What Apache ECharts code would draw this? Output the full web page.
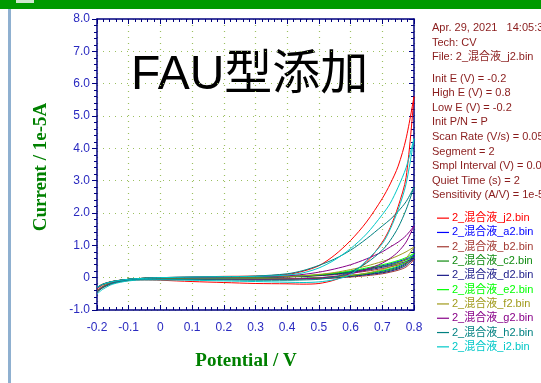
<!DOCTYPE html>
<html><head><meta charset="utf-8">
<script src="https://cdn.jsdelivr.net/npm/echarts@6/dist/echarts.min.js"></script>
<style>html,body{margin:0;padding:0;background:#fff;}#c{width:541px;height:383px;}</style>
</head><body><div id="c"></div>
<script>
// ---- data ----
const potFwd = [-0.2, -0.18, -0.15, -0.1, -0.05, 0, 0.1, 0.2, 0.3, 0.4, 0.45, 0.5, 0.55, 0.6, 0.65, 0.7, 0.725, 0.75, 0.775, 0.8];
const potRev = [0.8, 0.775, 0.75, 0.725, 0.7, 0.65, 0.6, 0.55, 0.5, 0.45, 0.4, 0.3, 0.2, 0.1, 0, -0.05, -0.1, -0.15, -0.18, -0.2];

const seriesNames = ['2_混合液_j2.bin','2_混合液_a2.bin','2_混合液_b2.bin','2_混合液_c2.bin','2_混合液_d2.bin','2_混合液_e2.bin','2_混合液_f2.bin','2_混合液_g2.bin','2_混合液_h2.bin','2_混合液_i2.bin'];
const seriesColors = ['#ff0000','#0000ff','#a33a33','#108a10','#1a1a88','#00ff00','#a09a1a','#880088','#008080','#00c8c8'];

const j2Fwd = [-0.45, -0.3, -0.18, -0.09, -0.07, -0.08, -0.12, -0.15, -0.18, -0.19, -0.2, -0.18, -0.07, 0.15, 0.48, 1.1, 1.55, 2.2, 3.1, 5.6];
const j2Rev = [5.6, 4.3, 3.45, 2.9, 2.45, 1.72, 1.15, 0.7, 0.37, 0.2, 0.1, 0.05, 0.04, 0.02, 0.0, -0.02, -0.05, -0.13, -0.22, -0.35];
const a2Fwd = [-0.42, -0.28, -0.16, -0.07, -0.05, -0.05, -0.05, -0.04, -0.04, -0.03, -0.02, 0.0, 0.03, 0.07, 0.12, 0.2, 0.26, 0.33, 0.45, 0.7];
const a2Rev = [0.7, 0.58, 0.5, 0.43, 0.37, 0.27, 0.19, 0.13, 0.08, 0.05, 0.03, 0.02, 0.01, 0.0, -0.01, -0.02, -0.05, -0.12, -0.2, -0.32];
const b2Fwd = [-0.4, -0.26, -0.15, -0.07, -0.05, -0.05, -0.05, -0.05, -0.05, -0.04, -0.04, -0.03, -0.01, 0.02, 0.06, 0.12, 0.17, 0.23, 0.33, 0.55];
const b2Rev = [0.55, 0.46, 0.39, 0.33, 0.28, 0.2, 0.14, 0.09, 0.06, 0.04, 0.02, 0.01, 0.0, 0.0, -0.01, -0.02, -0.05, -0.11, -0.19, -0.3];
const c2Fwd = [-0.44, -0.29, -0.16, -0.07, -0.05, -0.05, -0.05, -0.05, -0.04, -0.04, -0.03, -0.01, 0.02, 0.05, 0.1, 0.17, 0.23, 0.3, 0.42, 0.65];
const c2Rev = [0.65, 0.55, 0.47, 0.4, 0.35, 0.26, 0.18, 0.12, 0.08, 0.05, 0.03, 0.02, 0.01, 0.0, -0.01, -0.02, -0.05, -0.12, -0.2, -0.3];
const d2Fwd = [-0.43, -0.28, -0.16, -0.07, -0.05, -0.05, -0.05, -0.05, -0.05, -0.04, -0.03, -0.02, 0.0, 0.04, 0.09, 0.15, 0.2, 0.27, 0.38, 0.6];
const d2Rev = [0.6, 0.5, 0.43, 0.37, 0.32, 0.23, 0.16, 0.11, 0.07, 0.04, 0.03, 0.01, 0.01, 0.0, -0.01, -0.02, -0.05, -0.12, -0.2, -0.31];
const e2Fwd = [-0.41, -0.27, -0.15, -0.07, -0.05, -0.05, -0.05, -0.04, -0.04, -0.03, -0.02, 0.0, 0.03, 0.07, 0.13, 0.22, 0.28, 0.36, 0.5, 0.75];
const e2Rev = [0.75, 0.62, 0.53, 0.46, 0.4, 0.3, 0.21, 0.14, 0.09, 0.06, 0.04, 0.02, 0.01, 0.0, -0.01, -0.02, -0.05, -0.12, -0.2, -0.3];
const f2Fwd = [-0.4, -0.27, -0.15, -0.07, -0.05, -0.05, -0.05, -0.05, -0.04, -0.03, -0.02, -0.01, 0.02, 0.07, 0.14, 0.25, 0.33, 0.43, 0.6, 0.95];
const f2Rev = [0.95, 0.8, 0.68, 0.58, 0.5, 0.36, 0.25, 0.16, 0.1, 0.06, 0.04, 0.02, 0.01, 0.0, -0.01, -0.02, -0.05, -0.12, -0.2, -0.3];
const g2Fwd = [-0.42, -0.28, -0.16, -0.07, -0.05, -0.05, -0.05, -0.05, -0.05, -0.04, -0.03, -0.01, 0.04, 0.12, 0.25, 0.45, 0.6, 0.8, 1.1, 1.6];
const g2Rev = [1.6, 1.3, 1.1, 0.95, 0.8, 0.58, 0.4, 0.27, 0.17, 0.1, 0.06, 0.03, 0.02, 0.01, 0.0, -0.02, -0.05, -0.12, -0.2, -0.3];
const h2Fwd = [-0.45, -0.3, -0.17, -0.08, -0.05, -0.05, -0.06, -0.07, -0.08, -0.08, -0.07, -0.05, 0.02, 0.18, 0.45, 0.85, 1.15, 1.55, 2.1, 2.8];
const h2Rev = [2.8, 2.35, 2.05, 1.8, 1.6, 1.2, 0.85, 0.58, 0.38, 0.22, 0.12, 0.05, 0.03, 0.02, 0.0, -0.02, -0.05, -0.12, -0.2, -0.3];
const i2Fwd = [-0.5, -0.35, -0.2, -0.1, -0.07, -0.07, -0.08, -0.1, -0.12, -0.14, -0.15, -0.13, -0.06, 0.1, 0.53, 1.05, 1.5, 2.1, 2.9, 4.3];
const i2Rev = [4.3, 3.4, 2.8, 2.3, 1.95, 1.35, 0.9, 0.55, 0.3, 0.15, 0.08, 0.04, 0.03, 0.02, 0.0, -0.02, -0.05, -0.12, -0.2, -0.3];

const fwdSets = [j2Fwd, a2Fwd, b2Fwd, c2Fwd, d2Fwd, e2Fwd, f2Fwd, g2Fwd, h2Fwd, i2Fwd];
const revSets = [j2Rev, a2Rev, b2Rev, c2Rev, d2Rev, e2Rev, f2Rev, g2Rev, h2Rev, i2Rev];

const xTicks = ['-0.2','-0.1','0','0.1','0.2','0.3','0.4','0.5','0.6','0.7','0.8'];
const yTicks = ['-1.0','0','1.0','2.0','3.0','4.0','5.0','6.0','7.0','8.0'];

const headerLines = ['Apr. 29, 2021   14:05:38','Tech: CV','File: 2_混合液_j2.bin'];
const paramLines = ['Init E (V) = -0.2','High E (V) = 0.8','Low E (V) = -0.2','Init P/N = P','Scan Rate (V/s) = 0.05',
  'Segment = 2','Smpl Interval (V) = 0.001','Quiet Time (s) = 2','Sensitivity (A/V) = 1e-5'];

// ---- chart ----
const chart = echarts.init(document.getElementById('c'), null, {renderer:'canvas'});
const axisBlue = '#000080';
const labelColor = '#2a2ac0';
const infoColor = '#8a1c1c';
const infoFont = '11px "Liberation Sans", Arial, "Noto Sans CJK JP", sans-serif';
const fmtX = v => { const r = Math.round(v*10); return xTicks[r+2] !== undefined ? xTicks[r+2] : ''; };
const fmtY = v => { const r = Math.round(v); return yTicks[r+1] !== undefined ? yTicks[r+1] : ''; };

const series = seriesNames.map((name, k) => ({
  name, type:'line', xAxisIndex:0, yAxisIndex:0,
  showSymbol:false, smooth:0.3, animation:false,
  lineStyle:{width:1, color:seriesColors[k]}, itemStyle:{color:seriesColors[k]},
  data: potFwd.map((x,i)=>[x, fwdSets[k][i]]).concat(potRev.map((x,i)=>[x, revSets[k][i]]))
}));

const infoGraphics = headerLines.map((t,i)=>({
  type:'text', x:432, y:28 + i*14.5,
  style:{text:t, fill:infoColor, font:infoFont, verticalAlign:'middle'}
})).concat(paramLines.map((t,i)=>({
  type:'text', x:432, y:78.5 + i*14.6,
  style:{text:t, fill:infoColor, font:infoFont, verticalAlign:'middle'}
})));

chart.setOption({
  animation:false,
  backgroundColor:'#ffffff',
  grid:{left:97, right:127, top:19, bottom:73, show:false},
  xAxis:[{
    type:'value', min:-0.2, max:0.8, interval:0.1, position:'bottom',
    axisLine:{show:true, onZero:false, lineStyle:{color:axisBlue, width:1.5}},
    axisTick:{show:true, inside:true, length:5, lineStyle:{color:axisBlue}},
    minorTick:{show:true, splitNumber:5, length:3, lineStyle:{color:axisBlue}},
    axisLabel:{formatter:fmtX, color:labelColor, fontSize:12, margin:12, fontFamily:'"Liberation Sans", Arial'},
    splitLine:{show:true, lineStyle:{color:'#9cc060', type:[1,5], width:1.2}}
  },{
    type:'value', min:-0.2, max:0.8, interval:0.1, position:'top',
    axisLine:{show:true, onZero:false, lineStyle:{color:axisBlue, width:1.5}},
    axisTick:{show:true, inside:true, length:5, lineStyle:{color:axisBlue}},
    minorTick:{show:true, splitNumber:5, length:3, lineStyle:{color:axisBlue}},
    axisLabel:{show:false}, splitLine:{show:false}
  }],
  yAxis:[{
    type:'value', min:-1, max:8, interval:1, position:'left',
    axisLine:{show:true, onZero:false, lineStyle:{color:axisBlue, width:1.5}},
    axisTick:{show:true, inside:false, length:5, lineStyle:{color:axisBlue}},
    minorTick:{show:true, splitNumber:5, length:3, lineStyle:{color:axisBlue}},
    axisLabel:{formatter:fmtY, color:labelColor, fontSize:12, margin:7, fontFamily:'"Liberation Sans", Arial'},
    splitLine:{show:true, lineStyle:{color:'#9cc060', type:[1,5], width:1.2}}
  },{
    type:'value', min:-1, max:8, interval:1, position:'right',
    axisLine:{show:true, onZero:false, lineStyle:{color:axisBlue, width:1.5}},
    axisTick:{show:true, inside:true, length:5, lineStyle:{color:axisBlue}},
    minorTick:{show:true, splitNumber:5, length:3, lineStyle:{color:axisBlue}},
    axisLabel:{show:false}, splitLine:{show:false}
  }],
  legend:{
    orient:'vertical', left:432, top:206, itemGap:0,
    icon:'rect', itemWidth:12, itemHeight:1.2,
    textStyle:{fontSize:11, lineHeight:14.3, padding:[0,0,0,-2], fontFamily:'"Liberation Sans", Arial, "Noto Sans CJK JP"'},
    data: seriesNames.map((n,k)=>({name:n, textStyle:{color:seriesColors[k]}})),
    selectedMode:false
  },
  series,
  graphic:[
    {type:'rect', left:0, top:0, shape:{width:541, height:9}, style:{fill:'#009a00'}},
    {type:'rect', left:16, top:0, shape:{width:18, height:3}, style:{fill:'#cfe8cf'}},
    {type:'rect', left:8, top:9, shape:{width:3, height:374}, style:{fill:'#8fb0d0'}},
    {type:'text', x:131, y:76, style:{text:'FAU型添加', fill:'#000', font:'48px "Liberation Sans", "Noto Sans CJK JP", sans-serif', verticalAlign:'middle'}},
    {type:'text', x:41, y:167, rotation:Math.PI/2, style:{text:'Current / 1e-5A', fill:'#008000', font:'bold 19px "Liberation Serif", "DejaVu Serif", serif', align:'center', verticalAlign:'middle'}},
    {type:'text', x:246, y:361, style:{text:'Potential / V', fill:'#008000', font:'bold 19px "Liberation Serif", "DejaVu Serif", serif', align:'center', verticalAlign:'middle'}}
  ].concat(infoGraphics)
});
</script></body></html>
